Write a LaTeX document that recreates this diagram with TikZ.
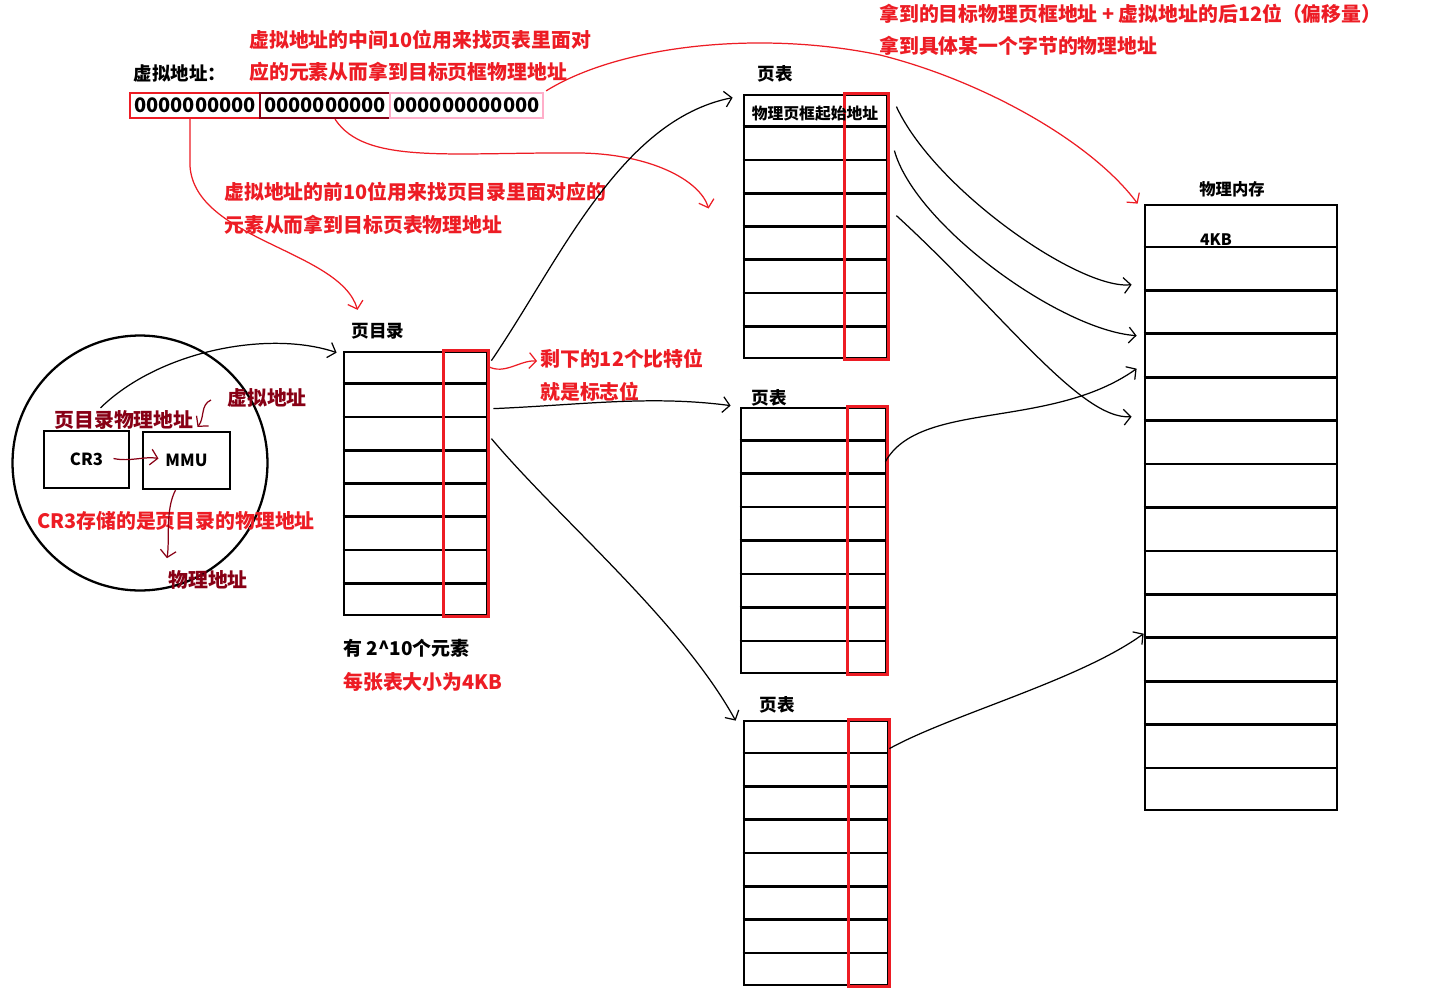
\documentclass[tikz,border=0pt]{standalone}
\usepackage{fontspec}
\setmainfont{Noto Sans CJK SC}
\definecolor{pgred}{RGB}{237,28,36}
\definecolor{pgdark}{RGB}{136,0,21}
\definecolor{pgpink}{RGB}{255,174,201}
\usetikzlibrary{arrows.meta,positioning,calc}

\tikzset{
  tbl/.style={draw,line width=1.6pt,inner sep=0pt},
  flagcol/.style={draw=pgred,line width=1.4pt},
  bitbox/.style={line width=1.3pt,inner sep=0pt,minimum width=2.6cm,minimum height=0.5cm,
                 font=\fontsize{11.4}{14}\selectfont\bfseries},
  lbl/.style={font=\fontsize{10}{12}\selectfont\bfseries,inner sep=1pt},
  note/.style={font=\fontsize{11.3}{13}\selectfont\bfseries,text=pgred,anchor=west,inner sep=0pt},
  darknote/.style={font=\fontsize{11.3}{13}\selectfont\bfseries,text=pgdark,inner sep=0pt},
  hand/.style={line width=0.7pt,-{Straight Barb[length=4pt,width=9pt]}},
  redhand/.style={hand,pgred},
  darkhand/.style={hand,pgdark},
}

\begin{document}
\begin{tikzpicture}[x=0.02cm,y=-0.02cm]
  \fill[white] (0,0) rectangle (1456,997);
  \useasboundingbox (0,0) rectangle (1456,997);
  % Virtual address
  \node[lbl,font=\fontsize{10.5}{12}\selectfont\bfseries] (vlbl) at (180,73) {虚拟地址：};
  \node[bitbox,draw=pgred] (hi) at (195,105.5) {0000000000};
  \node[bitbox,draw=pgdark] (mid) at (325,105.5) {0000000000};
  \node[bitbox,draw=pgpink,minimum width=3.06cm] (lo) at (466.5,105.5) {000000000000};
  % Notes
  \node[note] (midnote1) at (249,40) {虚拟地址的中间10位用来找页表里面对};
  \node[note] (midnote2) at (249,72) {应的元素从而拿到目标页框物理地址};
  \node[note] (offnote1) at (879,14) {拿到的目标物理页框地址 + 虚拟地址的后12位（偏移量）};
  \node[note] (offnote2) at (879,46) {拿到具体某一个字节的物理地址};
  \node[note] (hinote1) at (224,192) {虚拟地址的前10位用来找页目录里面对应的};
  \node[note] (hinote2) at (224,225) {元素从而拿到目标页表物理地址};
  \node[note] (flag1) at (540,359) {剩下的12个比特位};
  \node[note] (flag2) at (540,392) {就是标志位};
  \node[lbl,anchor=west,inner sep=0pt,font=\fontsize{10.8}{12}\selectfont\bfseries] (count) at (343,648) {有 2\textasciicircum10个元素};
  \node[note] (size) at (343,682) {每张表大小为4KB};
  % CPU
  \node[draw,circle,line width=1.3pt,minimum size=5.1cm,inner sep=0pt] (cpu) at (140,463) {};
  \node[draw,line width=1.3pt,minimum width=1.7cm,minimum height=1.14cm,
        font=\fontsize{9.5}{11}\selectfont\bfseries] (cr3) at (86.5,459.5) {CR3};
  \node[draw,line width=1.3pt,minimum width=1.74cm,minimum height=1.14cm,
        font=\fontsize{9.5}{11}\selectfont\bfseries] (mmu) at (186.5,460.5) {MMU};
  \node[darknote] (pdaddr) at (124,420) {页目录物理地址};
  \node[darknote] (vaddr) at (267,398) {虚拟地址};
  \node[darknote] (paddr) at (208,580) {物理地址};
  \node[note,anchor=center] (cr3note) at (176,521) {CR3存储的是页目录的物理地址};
  % Tables
  \node[tbl,minimum width=2.86cm,minimum height=5.26cm] (pd) at (415.5,483.5) {};
  \node[tbl,minimum width=2.86cm,minimum height=5.26cm] (pt1) at (815.5,226.5) {};
  \node[tbl,minimum width=2.9cm,minimum height=5.3cm] (pt2) at (813.5,540.5) {};
  \node[tbl,minimum width=2.88cm,minimum height=5.28cm] (pt3) at (816,853) {};
  \node[tbl,minimum width=3.84cm,minimum height=12.1cm] (mem) at (1241,507.5) {};
  \foreach \t in {pd,pt1,pt2,pt3}
    \foreach \i in {1,...,7}
      \draw[line width=1.6pt] ($(\t.north west)!\i/8!(\t.south west)$) -- ($(\t.north east)!\i/8!(\t.south east)$);
  \foreach \i in {1,...,13}
    \draw[line width=1.6pt] ($(mem.north west)!\i/14!(mem.south west)$) -- ($(mem.north east)!\i/14!(mem.south east)$);
  \foreach \t/\w in {pd/45,pt1/44,pt2/40,pt3/41}
    \draw[flagcol] ($(\t.north east)+(-\w,0)$) rectangle (\t.south east);
  \node[font=\fontsize{9}{11}\selectfont\bfseries,inner sep=0pt] (frame) at (815,114) {物理页框起始地址};
  \node[lbl] (pdlbl) at (378,331) {页目录};
  \node[lbl] (pt1lbl) at (775,74) {页表};
  \node[lbl] (pt2lbl) at (769,398) {页表};
  \node[lbl] (pt3lbl) at (777,705) {页表};
  \node[lbl,font=\fontsize{9.3}{11}\selectfont\bfseries] (memlbl) at (1232,189) {物理内存};
  \node[lbl,font=\fontsize{9}{11}\selectfont\bfseries] (kb) at (1216,240) {4KB};
  % Red arrows
  \draw[redhand] ($(hi.south)+(-5,0)$) -- ++(0,47) .. controls (195,240) and (340,250) .. ($(pdlbl.north west)+(8,-11)$);
  \draw[redhand] ($(mid.south)+(10,0)$) .. controls (365,165) and (450,152) .. (580,153)
        .. controls (650,154) and (700,180) .. ($(pt1.west)+(-34,-18)$);
  \draw[redhand] ($(lo.north east)+(2,-1)$) .. controls (620,45) and (760,30) .. (880,55)
        .. controls (980,80) and (1090,140) .. ($(mem.north west)+(-6,0)$);
  \draw[redhand] ($(pd.north east)+(0,16)$) .. controls (505,375) and (520,360) .. ($(flag1.west)+(-3,2)$);
  % Dark red arrows
  \draw[darkhand] ($(cr3.center)+(27,-1)$) .. controls (130,462) and (145,456) .. ($(mmu.center)+(-28,-2)$);
  \draw[darkhand] ($(vaddr.west)+(-16,2)$) .. controls (200,405) and (205,418) .. ($(mmu.north)+(11,-4)$);
  \draw[darkhand] ($(mmu.south)+(-11,0)$) .. controls (165,510) and (170,540) .. ($(paddr.north west)+(-1,-12)$);
  % Black arrows
  \draw[hand] ($(cr3.north)+(14,-22)$) .. controls (160,350) and (270,330) .. ($(pd.north west)+(-6,2)$);
  \draw[hand] ($(pd.north east)+(3,10)$) .. controls (560,260) and (620,120) .. ($(pt1.north west)+(-10,4)$);
  \draw[hand] ($(pd.north east)+(5,58)$) .. controls (580,405) and (650,395) .. ($(pt2.north west)+(-9,-1)$);
  \draw[hand] ($(pd.north east)+(3,88)$) .. controls (560,520) and (680,620) .. ($(pt3.north west)+(-7,1)$);
  \draw[hand] ($(pt1.north east)+(8,13)$) .. controls (935,190) and (1080,290) .. ($(mem.north west)+(-12,81)$);
  \draw[hand] ($(pt1.north east)+(6,57)$) .. controls (915,225) and (1060,330) .. ($(mem.north west)+(-7,132)$);
  \draw[hand] ($(pt1.north east)+(8,122)$) .. controls (1000,310) and (1080,420) .. ($(mem.north west)+(-12,213)$);
  \draw[hand] ($(pt2.north east)+(-2,55)$) .. controls (920,400) and (1050,430) .. ($(mem.north west)+(-7,165)$);
  \draw[hand] ($(pt3.north east)+(0,29)$) .. controls (950,715) and (1080,680) .. ($(mem.north west)+(0,430)$);
\end{tikzpicture}
\end{document}
